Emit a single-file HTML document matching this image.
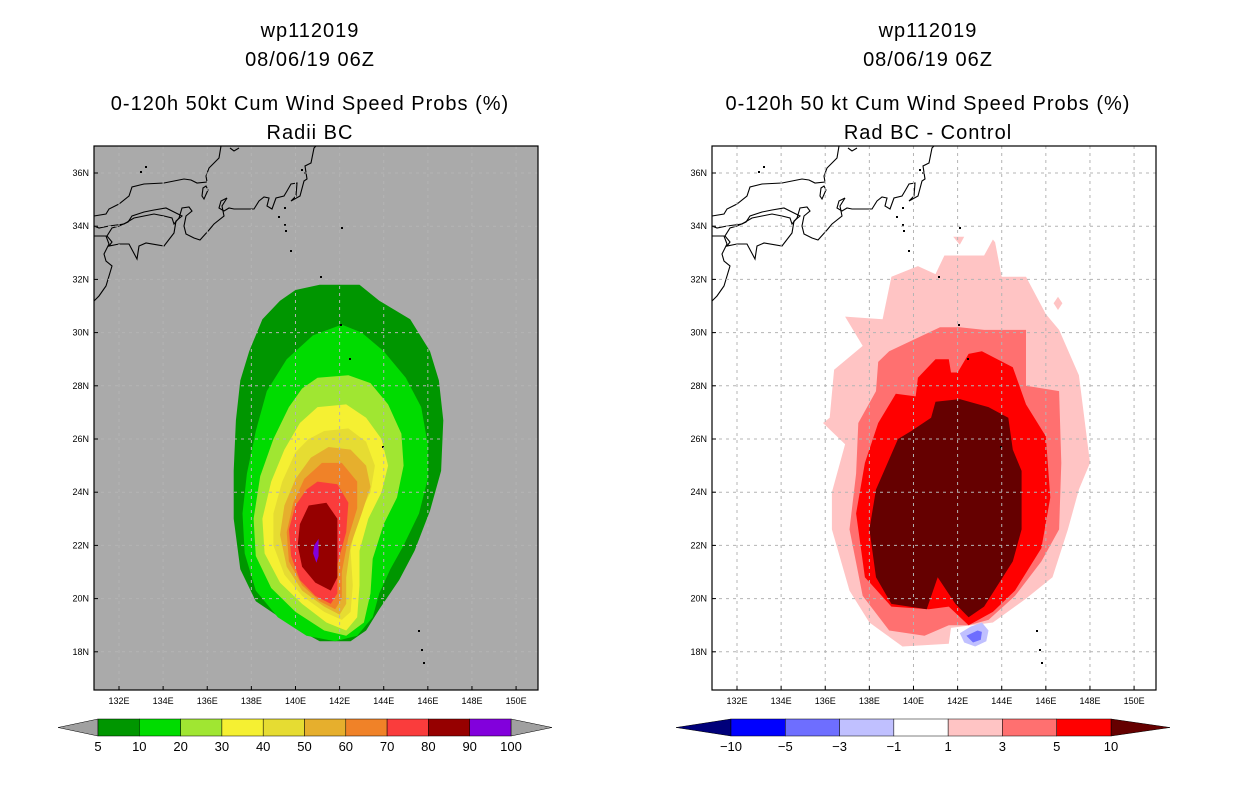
<!DOCTYPE html>
<html><head><meta charset="utf-8"><style>
body{margin:0;background:#fff;}
svg text{font-family:"Liberation Sans",sans-serif;}
</style></head><body>
<svg id="s" width="1236" height="800" xmlns="http://www.w3.org/2000/svg">
<rect width="1236" height="800" fill="#fff"/>
<g font-size="20" text-anchor="middle" fill="#000" letter-spacing="1">
<text x="310" y="37">wp112019</text>
<text x="310" y="66">08/06/19 06Z</text>
<text x="310" y="110">0-120h 50kt Cum Wind Speed Probs (%)</text>
<text x="310" y="139">Radii BC</text>
<text x="928" y="37">wp112019</text>
<text x="928" y="66">08/06/19 06Z</text>
<text x="928" y="110">0-120h 50 kt Cum Wind Speed Probs (%)</text>
<text x="928" y="139">Rad BC - Control</text>
</g>
<rect x="94" y="146" width="444" height="544" fill="#aaaaaa"/>
<rect x="712" y="146" width="444" height="544" fill="#ffffff"/>
<g id="left"></g>
<g id="right"></g>
<g id="cbl"></g>
<g id="cbr"></g>
</svg>
<script>
// axis ticks
const lonTicks=[132,134,136,138,140,142,144,146,148,150];
const latTicks=[18,20,22,24,26,28,30,32,34,36];
// left panel probability contours (lon,lat)
const lvlColorsL=["#009600","#00dc00","#a0e632","#f5f032","#e6dc32","#e6af2d","#f08228","#fa3c3c","#960000","#8200dc"];
const L5=[[140,31.6],[141.1,31.8],[142.9,31.8],[143.8,31.2],[145.2,30.5],[146.1,29.3],[146.5,28.2],[146.7,26.7],[146.6,24.8],[146.1,23.3],[145.4,21.8],[144.7,20.7],[143.8,19.6],[143.2,18.8],[142.5,18.4],[141.1,18.4],[140.2,18.8],[139.1,19.4],[138.2,19.9],[137.5,21.1],[137.2,23],[137.2,24.8],[137.3,26.7],[137.5,28.2],[137.9,29.3],[138.5,30.5],[139.3,31.2]];
const L10=[[142.1,30.3],[143,30],[144,29.3],[145,28.3],[145.7,27.2],[146,25.8],[146,24.5],[145.6,23.2],[144.9,22],[144.3,21.1],[143.8,20.2],[143.5,19.3],[142.8,18.6],[141.8,18.4],[140.5,18.6],[139.2,19.3],[138.2,20.3],[137.7,21.7],[137.6,23.2],[137.8,24.7],[138.2,26.3],[138.7,27.8],[139.6,29],[140.8,29.9]];
const L20=[[141,28.3],[142.4,28.4],[143.4,28.1],[144.2,27.3],[144.8,26.2],[144.9,25],[144.6,23.8],[144,22.8],[143.5,21.5],[143.4,20.2],[143.1,19.1],[142.3,18.6],[141.3,18.8],[140,19.5],[138.9,20.4],[138.2,21.6],[138.1,23],[138.4,24.6],[139,26],[139.7,27.2],[140.3,27.9]];
const L30=[[141,27.2],[142.3,27.3],[143.2,26.8],[143.9,26],[144.2,25],[143.9,24],[143.3,23],[142.9,21.8],[142.9,20.5],[142.8,19.3],[142.3,18.8],[141.4,19.1],[140.3,19.8],[139.3,20.6],[138.6,21.7],[138.5,23],[138.9,24.4],[139.5,25.6],[140.2,26.6]];
const L40=[[141.3,26.3],[142.4,26.4],[143.2,25.9],[143.6,25],[143.4,24],[142.8,23],[142.5,21.8],[142.6,20.5],[142.5,19.5],[142.1,19.2],[141.3,19.5],[140.3,20.1],[139.5,20.9],[139,22],[139,23.2],[139.4,24.4],[140,25.5],[140.6,26]];
const L50=[[141.5,25.7],[142.5,25.6],[143.2,25],[143.4,24.2],[143,23.2],[142.5,22],[142.3,20.8],[142.3,19.8],[142,19.4],[141.3,19.7],[140.3,20.3],[139.6,21.2],[139.3,22.4],[139.5,23.5],[140,24.5],[140.7,25.3]];
const L60=[[141.2,25.1],[142.1,25.1],[142.8,24.4],[142.8,23.4],[142.4,22.3],[142.1,21],[142.1,20],[141.8,19.6],[141.1,19.9],[140.3,20.5],[139.7,21.4],[139.6,22.5],[139.9,23.6],[140.4,24.5]];
const L70=[[141,24.4],[141.9,24.3],[142.4,23.6],[142.3,22.5],[141.9,21.3],[141.9,20.2],[141.6,19.8],[140.9,20.1],[140.2,20.7],[139.8,21.6],[139.7,22.6],[140,23.5],[140.5,24.1]];
const L80=[[140.6,23.5],[141.4,23.6],[141.9,23],[141.9,22],[141.9,20.8],[141.6,20.3],[140.9,20.6],[140.3,21.2],[140.1,22],[140.2,22.8]];
const L90=[[140.85,22.0],[141.05,22.25],[141.05,21.6],[140.95,21.35],[140.8,21.7]];
// right panel difference contours
const lvlColorsR=["#ffc4c4","#ff7070","#ff0000","#650000","#c0c0ff","#6e6eff"];
const P1=[[143.7,33.4],[143.6,33.5],[143.2,32.9],[141.4,32.9],[141,32.2],[140.2,32.5],[139,32.1],[138.6,30.5],[136.9,30.6],[137.7,29.5],[136.4,28.6],[136.2,26.8],[135.9,26.6],[136.9,25.8],[136.3,24],[136.3,22.6],[137.1,20.3],[138,19.1],[139.5,18.2],[141.6,18.3],[141.7,18.9],[143.6,19.1],[145.1,20],[146.3,20.8],[147,22.6],[147.5,24.1],[148,25.1],[147.5,28.4],[146.6,30.1],[146,30.7],[145.1,32.1],[144,32.1]];
const P1b=[[141.8,33.6],[142.3,33.6],[142.1,33.3]];
const P1c=[[146.55,31.35],[146.75,31.1],[146.55,30.85],[146.35,31.1]];
const P3=[[138.9,29.3],[141.2,30.2],[142.1,30.2],[143.2,30.1],[145.1,30.1],[145.1,28],[146.6,27.8],[146.7,25.1],[146.6,22.6],[145.8,21.4],[144.6,20.1],[143.4,19.2],[142.5,19],[141.6,19],[140.5,18.6],[138.9,18.8],[137.7,20.1],[137.1,22.6],[137.4,24.7],[137.5,26.6],[138.3,27.8],[138.4,28.9]];
const P5=[[141,29.0],[141.6,29.0],[141.7,28.5],[142,28.5],[142.5,29.2],[143.1,29.3],[144.5,28.7],[145.1,27.3],[146,26.1],[146.2,23.8],[145.8,21.9],[144.6,20.3],[143.6,19.5],[142.5,19],[141.6,19.7],[140.7,19.6],[139,19.7],[137.8,20.8],[137.4,23.2],[137.8,25.1],[138.4,26.6],[139.2,27.7],[140.1,27.6],[140.2,28.3]];
const P10=[[141,27.4],[142.1,27.5],[143.4,27.2],[144.3,26.8],[144.5,25.6],[144.9,24.8],[144.9,22.6],[144.5,21.4],[143.2,19.7],[142.5,19.3],[141.9,19.8],[141.1,20.8],[140.6,19.6],[139,19.8],[138.3,20.8],[138,22.6],[138.3,24.1],[139.3,26],[139.9,26.3],[140.8,26.8]];
const N1=[[142.1,18.7],[142.6,18.95],[143.1,19.1],[143.4,18.8],[143.3,18.4],[142.8,18.2],[142.3,18.35]];
const N3=[[142.4,18.6],[142.9,18.8],[143.1,18.75],[143.05,18.45],[142.7,18.35]];
// colorbar labels
const cbLabelsL=["5","10","20","30","40","50","60","70","80","90","100"];
const cbColorsL=["#009600","#00dc00","#a0e632","#f5f032","#e6dc32","#e6af2d","#f08228","#fa3c3c","#960000","#8200dc"];
const cbLabelsR=["-10","-5","-3","-1","1","3","5","10"];
const cbColorsR=["#0000ff","#6e6eff","#c0c0ff","#ffffff","#ffc4c4","#ff7070","#ff0000"];

const NS="http://www.w3.org/2000/svg";
function mk(p,tag,at){const e=document.createElementNS(NS,tag);for(const k in at)e.setAttribute(k,String(at[k]));p.appendChild(e);return e;}
const X0=94,Y0=146,W=444,H=544;
function xs(lon){return 119+(lon-132)*22.06;}
function ys(lat){return 173+(36-lat)*26.6;}
const coast=["M127,0 L125,12 L115,22 L112,30 L113,36 L103,37 L97,34 L90,33 L70,37 L50,38 L38,41 L35,50 L25,58 L15,63 L12,68 L0,70",
"M133,52 L127,55 L125,62 L130,65 L135,62 L140,63 L160,63 L165,55 L170,51 L175,52 L173,60 L178,63 L182,52 L190,50 L193,45 L197,38 L203,37 L202,50 L197,55 L206,50 L210,35 L213,33 L211,20 L217,17 L220,2 L222,0",
"M133,52 L128,60 L130,70 L120,78 L115,84 L106,94 L100,92 L92,88 L90,80 L92,70 L98,65 L95,61 L88,62 L85,72 L80,78 L78,72 L70,70 L60,68 L50,70 L40,72 L30,78 L15,80 L5,82 L0,80",
"M80,66 L72,62 L60,64 L50,66 L38,70 L34,76 L25,80 L18,82 L13,90 L18,96 L15,100 L25,98 L35,98 L43,113 L45,100 L52,97 L70,100 L80,87 L82,75 L88,70 L80,66",
"M0,90 L12,90 L15,98 L10,108 L12,115 L18,120 L15,130 L12,140 L5,150 L0,155",
"M109,42 L112,40 L114,44 L110,53 L108,50 Z","M136,2 L140,5 L145,2"];
const islands=[[46,25],[51,20],[190,61],[184,70],[190,78],[191,84],[196,104],[207,23],[210,26],[246,178],[255,212],[288,300],[324,484],[327,503],[329,516],[226,130],[247,81]];
function panel(g,off,polys,cols){
  polys.forEach((p,i)=>{
    const pts=p.map(q=>(xs(q[0])+off).toFixed(1)+','+ys(q[1]).toFixed(1)).join(' ');
    const e=mk(g,'polygon',{points:pts,fill:cols[i]});
    
    
  });
  const cg=mk(g,'g',{transform:'translate('+(X0+off)+','+Y0+')',fill:'none',stroke:'#000','stroke-width':1.1});
  coast.forEach(d=>{const e=mk(cg,'path',{d:d});
    
    });
  islands.forEach(p=>mk(cg,'rect',{x:p[0],y:p[1],width:2,height:2,fill:'#000',stroke:'none'}));
  lonTicks.forEach(l=>{const x=xs(l)+off;
    const e=mk(g,'line',{x1:x,y1:Y0,x2:x,y2:Y0+H,stroke:'#b4b4b4','stroke-dasharray':'3,4'});
    
    
    const t=mk(g,'text',{x:x,y:704,'font-size':9,'text-anchor':'middle'});t.textContent=l+'E';
    
    
    mk(g,'line',{x1:x,y1:Y0+H,x2:x,y2:Y0+H-4,stroke:'#000'});});
  latTicks.forEach(l=>{const y=ys(l);
    const e=mk(g,'line',{x1:X0+off,y1:y,x2:X0+off+W,y2:y,stroke:'#b4b4b4','stroke-dasharray':'3,4'});
    
    
    const t=mk(g,'text',{x:X0+off-5,y:y+3,'font-size':9,'text-anchor':'end'});t.textContent=l+'N';
    
    
    mk(g,'line',{x1:X0+off,y1:y,x2:X0+off+4,y2:y,stroke:'#000'});});
  mk(g,'rect',{x:X0+off,y:Y0,width:W,height:H,fill:'none',stroke:'#000','stroke-width':1.2});
}
panel(document.getElementById('left'),0,[L5,L10,L20,L30,L40,L50,L60,L70,L80,L90],lvlColorsL);
panel(document.getElementById('right'),618,[P1,P1b,P1c,P3,P5,P10,N1,N3],[lvlColorsR[0],lvlColorsR[0],lvlColorsR[0],lvlColorsR[1],lvlColorsR[2],lvlColorsR[3],lvlColorsR[4],lvlColorsR[5]]);

function colorbar(g,x0,x1,tl,tr,colors,labels,lc,rc){
  const y0=719,y1=736,n=colors.length,w=(x1-x0)/n;
  const a=mk(g,'polygon',{points:tl+','+((y0+y1)/2)+' '+x0+','+y0+' '+x0+','+y1,fill:lc,stroke:'#000','stroke-width':0.5});
  
  
  const b=mk(g,'polygon',{points:tr+','+((y0+y1)/2)+' '+x1+','+y0+' '+x1+','+y1,fill:rc,stroke:'#000','stroke-width':0.5});
  
  
  colors.forEach((c,i)=>{const r=mk(g,'rect',{x:x0+i*w,y:y0,width:w,height:y1-y0,fill:c,stroke:'#000','stroke-width':0.5});
    
    });
  labels.forEach((l,i)=>{const t=mk(g,'text',{x:x0+i*w,y:751,'font-size':13,'text-anchor':'middle'});t.textContent=l.replace('-','\u2212');
    
    });
}
colorbar(document.getElementById('cbl'),98,511,58,552,cbColorsL,cbLabelsL,'#a0a0a0','#a0a0a0');
colorbar(document.getElementById('cbr'),731,1111,676,1170,cbColorsR,cbLabelsR,'#00007a','#650000');
</script>
</body></html>
